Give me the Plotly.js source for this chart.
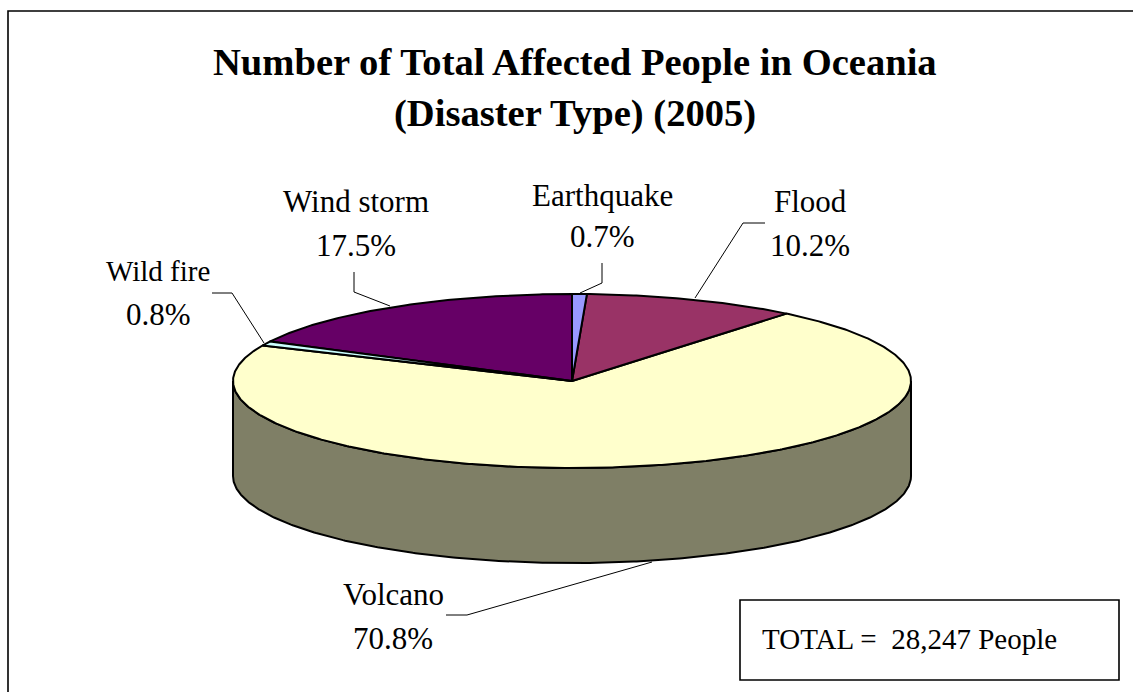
<!DOCTYPE html>
<html>
<head>
<meta charset="utf-8">
<script src="https://cdn.plot.ly/plotly-3.0.1.min.js"></script>
<style>html,body{margin:0;padding:0;background:#fff;overflow:hidden}#chart{width:1133px;height:692px}</style>
</head>
<body>
<div id="chart"></div>
<script>
// Disaster types in clockwise order from twelve o'clock
const categories = ['Earthquake', 'Flood', 'Volcano', 'Wild fire', 'Wind storm'];
const shares = [0.7, 10.2, 70.8, 0.8, 17.5];
const sliceColors = ['#9999FF', '#993366', '#FFFFCC', '#CCFFFF', '#660066'];
const wallColor = '#7F7F66';
const titleLines = ['Number of Total Affected People in Oceania', '(Disaster Type) (2005)'];
const totalPeople = '28,247';

// Disc projection, in axis units
const cx = 572, cy = 381, rx = 339, ry = 87, depth = 95;

const toRad = d => d * Math.PI / 180;
const px = d => cx + rx * Math.sin(toRad(d));
const py = (d, drop = 0) => cy - ry * Math.cos(toRad(d)) + drop;

function arc(from, to, drop = 0) {
  const n = Math.max(2, Math.ceil(Math.abs(to - from) / 0.5));
  const xs = [], ys = [];
  for (let i = 0; i <= n; i++) {
    const a = from + (to - from) * i / n;
    xs.push(px(a));
    ys.push(py(a, drop));
  }
  return [xs, ys];
}

const outline = {color: '#000', width: 2};
const traces = [];

// Side wall: only the front half of the rim is visible
const [wx1, wy1] = arc(90, 270, 0);
const [wx2, wy2] = arc(270, 90, depth);
traces.push({
  x: wx1.concat(wx2, [wx1[0]]), y: wy1.concat(wy2, [wy1[0]]),
  mode: 'lines', fill: 'toself', fillcolor: wallColor, line: outline, hoverinfo: 'skip'
});

// Top face: one wedge per category, with the largest drawn first so thin neighbours stay on top
let running = 0;
const wedges = shares.map((s, i) => {
  const start = running * 3.6;
  running += s;
  return {i, start, end: running * 3.6};
});
[...wedges].sort((a, b) => shares[b.i] - shares[a.i]).forEach(w => {
  const [ax, ay] = arc(w.start, w.end);
  traces.push({
    name: categories[w.i],
    x: [cx].concat(ax, [cx]), y: [cy].concat(ay, [cy]),
    mode: 'lines', fill: 'toself', fillcolor: sliceColors[w.i], line: outline, hoverinfo: 'skip'
  });
});

// Leader lines from the labels to the rim
const leaders = [
  {x: [602, 602, 580], y: [263, 283, 293]},
  {x: [765, 743, 695], y: [223, 223, 298]},
  {x: [446, 467, 652], y: [615, 615, 562]},
  {x: [212, 232, 264], y: [293, 293, 343]},
  {x: [354, 354, 390], y: [272, 292, 306]}
];
leaders.forEach(l => traces.push({
  x: l.x, y: l.y, mode: 'lines', line: {color: '#000', width: 1}, hoverinfo: 'skip'
}));

// Label placement: centre x, name y, percentage y, name font size
const labelPos = [[602, 195, 236, 31], [810, 201, 245, 31], [393, 594, 638, 31], [158, 271, 314, 29], [356, 201, 245, 31]];
const serif = '"Liberation Serif", "Times New Roman", serif';
const annotations = [];
categories.forEach((c, i) => {
  const [x, y1, y2, size] = labelPos[i];
  [c, shares[i].toFixed(1) + '%'].forEach((t, k) => annotations.push({
    x, y: k ? y2 : y1, xref: 'x', yref: 'y', text: t, showarrow: false,
    xanchor: 'center', yanchor: 'middle', font: {family: serif, size: k ? 31 : size, color: '#000'}
  }));
});
titleLines.forEach((t, k) => annotations.push({
  x: 574.5, y: k ? 113 : 62, xref: 'x', yref: 'y', text: t, showarrow: false,
  xanchor: 'center', yanchor: 'middle', font: {family: serif, size: 38.6, color: '#000', weight: 'bold'}
}));
annotations.push({
  x: 760, y: 639, xref: 'x', yref: 'y', text: 'TOTAL =  ' + totalPeople + ' People', showarrow: false,
  xanchor: 'left', yanchor: 'middle', font: {family: serif, size: 29, color: '#000'}
});

const hidden = {visible: false, fixedrange: true};
Plotly.newPlot('chart', traces, {
  width: 1133, height: 692,
  margin: {l: 0, r: 0, t: 0, b: 0},
  paper_bgcolor: '#fff', plot_bgcolor: '#fff',
  showlegend: false,
  xaxis: Object.assign({range: [0, 1133]}, hidden),
  yaxis: Object.assign({range: [692, 0]}, hidden),
  annotations,
  shapes: [
    // Chart frame runs off the right and bottom edges of the page
    {type: 'rect', xref: 'x', yref: 'y', x0: 8, x1: 1145, y0: 11, y1: 705, line: {color: '#000', width: 1.6}},
    {type: 'rect', xref: 'x', yref: 'y', x0: 740, x1: 1119, y0: 600, y1: 680, fillcolor: '#fff', line: {color: '#000', width: 1.6}, layer: 'below'}
  ]
}, {staticPlot: true, displayModeBar: false});
</script>
</body>
</html>
